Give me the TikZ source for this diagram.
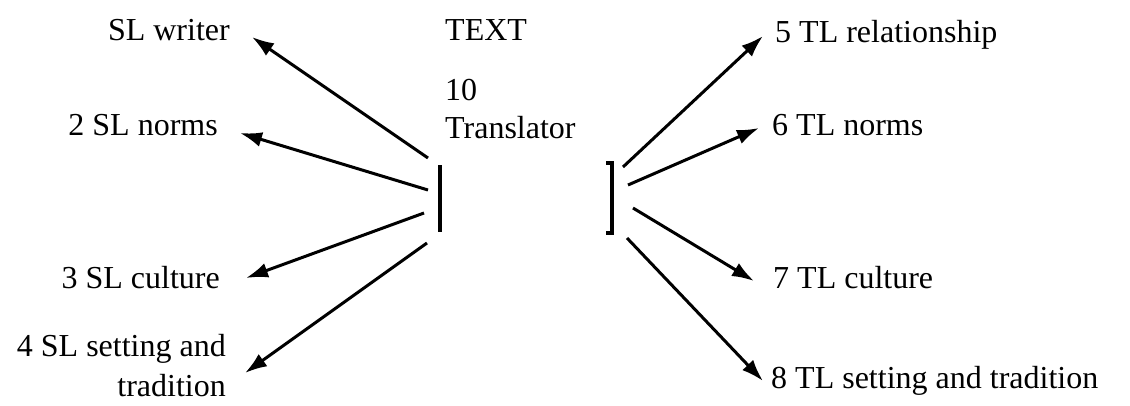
\documentclass[tikz,border=0pt]{standalone}
\usepackage{fontspec}
\setmainfont{Liberation Serif}
\usetikzlibrary{arrows.meta}
\begin{document}
\begin{tikzpicture}[x=1pt,y=-1pt,
  lbl/.style={inner sep=0pt,font=\fontsize{32}{40}\selectfont},
  arr/.style={line width=3pt,-{Latex[length=22pt,width=15pt]}},
  bar/.style={line width=3.5pt}]
\useasboundingbox (0,0) rectangle (1130,405);
% texts
\node[lbl,anchor=base east] (w1) at (230,40) {SL writer};
\node[lbl,anchor=base east] (w2) at (218,135) {2 SL norms};
\node[lbl,anchor=base east] (w3) at (220,288) {3 SL culture};
\node[lbl,anchor=base east,align=right,font=\fontsize{32}{40}\selectfont] (w4) at (226,396) {4 SL setting and\\tradition};
\node[lbl,anchor=base west] (tx) at (445,40) {TEXT};
\node[lbl,anchor=base west,align=left,font=\fontsize{32}{38}\selectfont] (tr) at (445,138) {10\\Translator};
\node[lbl,anchor=base west] (t5) at (775,42) {5 TL relationship};
\node[lbl,anchor=base west] (t6) at (772,135) {6 TL norms};
\node[lbl,anchor=base west] (t7) at (773,288) {7 TL culture};
\node[lbl,anchor=base west] (t8) at (771,388) {8 TL setting and tradition};
% bars
\coordinate (lb1) at (440,165); \coordinate (lb2) at (440,232);
\coordinate (rb0) at (606,163); \coordinate (rb1) at (612,163);
\coordinate (rb2) at (612,233); \coordinate (rb3) at (606,233);
\draw[bar] (lb1) -- (lb2);
\draw[bar] (rb0) -- (rb1) -- (rb2) -- (rb3);
% arrow ends
\coordinate (a1) at (428,158); \coordinate (e1) at (252,37);
\coordinate (a2) at (428,190); \coordinate (e2) at (240,133);
\coordinate (a3) at (424,213); \coordinate (e3) at (246,278);
\coordinate (a4) at (427,243); \coordinate (e4) at (245,373);
\coordinate (a5) at (623,167); \coordinate (e5) at (763,36);
\coordinate (a6) at (628,185); \coordinate (e6) at (759,128);
\coordinate (a7) at (633,208); \coordinate (e7) at (754,281);
\coordinate (a8) at (627,238); \coordinate (e8) at (763,381);
\foreach \i in {1,...,8} \draw[arr] (a\i) -- (e\i);
\end{tikzpicture}
\end{document}
